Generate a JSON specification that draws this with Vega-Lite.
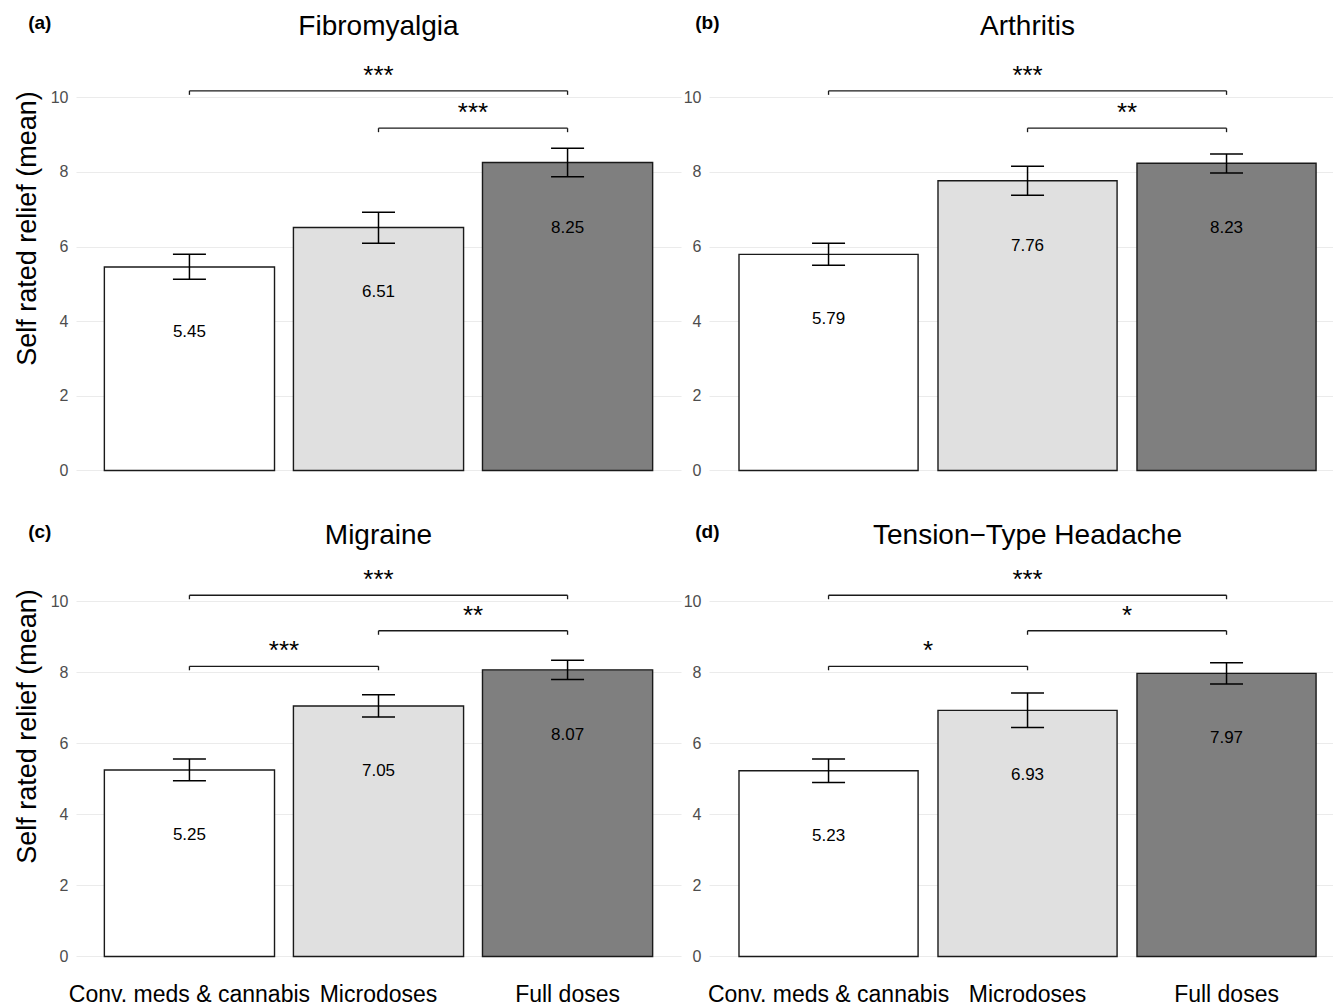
{
  "$schema": "https://vega.github.io/schema/vega-lite/v6.json",
  "background": "white",
  "padding": {"left": 13, "top": 13, "right": 0, "bottom": 0},
  "datasets": {
    "bars": [
      {"panel": "a", "group": "Conv. meds & cannabis", "mean": 5.45, "lo": 5.12, "hi": 5.79},
      {"panel": "a", "group": "Microdoses", "mean": 6.51, "lo": 6.09, "hi": 6.92},
      {"panel": "a", "group": "Full doses", "mean": 8.25, "lo": 7.87, "hi": 8.63},
      {"panel": "b", "group": "Conv. meds & cannabis", "mean": 5.79, "lo": 5.50, "hi": 6.09},
      {"panel": "b", "group": "Microdoses", "mean": 7.76, "lo": 7.37, "hi": 8.15},
      {"panel": "b", "group": "Full doses", "mean": 8.23, "lo": 7.97, "hi": 8.48},
      {"panel": "c", "group": "Conv. meds & cannabis", "mean": 5.25, "lo": 4.95, "hi": 5.56},
      {"panel": "c", "group": "Microdoses", "mean": 7.05, "lo": 6.74, "hi": 7.37},
      {"panel": "c", "group": "Full doses", "mean": 8.07, "lo": 7.80, "hi": 8.34},
      {"panel": "d", "group": "Conv. meds & cannabis", "mean": 5.23, "lo": 4.90, "hi": 5.56},
      {"panel": "d", "group": "Microdoses", "mean": 6.93, "lo": 6.45, "hi": 7.42},
      {"panel": "d", "group": "Full doses", "mean": 7.97, "lo": 7.67, "hi": 8.27}
    ],
    "sig": [
      {"panel": "a", "from": "Conv. meds & cannabis", "to": "Full doses", "level": 10.17, "label": "***", "wide": true},
      {"panel": "a", "from": "Microdoses", "to": "Full doses", "level": 9.17, "label": "***", "wide": false},
      {"panel": "b", "from": "Conv. meds & cannabis", "to": "Full doses", "level": 10.17, "label": "***", "wide": true},
      {"panel": "b", "from": "Microdoses", "to": "Full doses", "level": 9.17, "label": "**", "wide": false},
      {"panel": "c", "from": "Conv. meds & cannabis", "to": "Full doses", "level": 10.17, "label": "***", "wide": true},
      {"panel": "c", "from": "Microdoses", "to": "Full doses", "level": 9.17, "label": "**", "wide": false},
      {"panel": "c", "from": "Conv. meds & cannabis", "to": "Microdoses", "level": 8.17, "label": "***", "wide": false},
      {"panel": "d", "from": "Conv. meds & cannabis", "to": "Full doses", "level": 10.17, "label": "***", "wide": true},
      {"panel": "d", "from": "Microdoses", "to": "Full doses", "level": 9.17, "label": "*", "wide": false},
      {"panel": "d", "from": "Conv. meds & cannabis", "to": "Microdoses", "level": 8.17, "label": "*", "wide": false}
    ]
  },
  "config": {
    "font": "Liberation Sans",
    "view": {"stroke": null},
    "axis": {"domain": false, "ticks": false, "labelFont": "Liberation Sans", "titleFont": "Liberation Sans"},
    "axisY": {"grid": true, "gridColor": "#ebebeb", "gridWidth": 1.2, "labelFontSize": 16, "labelColor": "#4d4d4d", "labelPadding": 8, "titleFontSize": 27, "titleFontWeight": "normal", "titleColor": "#000000", "titlePadding": 9},
    "axisX": {"grid": false, "labelFontSize": 23, "labelColor": "#000000", "labelAngle": 0, "labelPadding": 7, "labelLimit": 0},
    "title": {"font": "Liberation Sans", "color": "#000000"}
  },
  "spacing": 31,
  "vconcat": [
    {
      "spacing": 2,
      "hconcat": [
        {
          "title": {"text": "(a)", "anchor": "start", "frame": "bounds", "fontSize": 19, "fontWeight": "bold", "baseline": "alphabetic", "offset": -35, "dx": 15},
          "vconcat": [{
            "width": 605, "height": 433,
            "title": {"text": "Fibromyalgia", "fontSize": 28, "fontWeight": "normal", "anchor": "middle", "frame": "group", "baseline": "alphabetic", "offset": -5},
            "layer": [
              {"data": {"name": "bars"}, "transform": [{"filter": "datum.panel == 'a'"}],
               "mark": {"type": "bar", "stroke": "#1a1a1a", "strokeWidth": 1.4},
               "encoding": {
                 "x": {"field": "group", "type": "nominal", "scale": {"domain": ["Conv. meds & cannabis", "Microdoses", "Full doses"], "paddingInner": 0.1, "paddingOuter": 0.15}, "axis": null},
                 "y": {"field": "mean", "type": "quantitative", "scale": {"domain": [-0.55, 11.05], "nice": false, "zero": false}, "axis": {"title": "Self rated relief (mean)", "titleY": 170, "values": [0, 2, 4, 6, 8, 10]}},
                 "y2": {"datum": 0},
                 "fill": {"field": "group", "type": "nominal", "scale": {"domain": ["Conv. meds & cannabis", "Microdoses", "Full doses"], "range": ["#ffffff", "#e0e0e0", "#7f7f7f"]}, "legend": null}
               }},
              {"data": {"name": "bars"}, "transform": [{"filter": "datum.panel == 'a'"}],
               "mark": {"type": "rule", "color": "#000000", "strokeWidth": 1.5},
               "encoding": {
                 "x": {"field": "group", "type": "nominal", "axis": null},
                 "y": {"field": "lo", "type": "quantitative", "axis": {"title": "Self rated relief (mean)"}},
                 "y2": {"field": "hi"}
               }},
              {"data": {"name": "bars"}, "transform": [{"filter": "datum.panel == 'a'"}],
               "mark": {"type": "tick", "size": 33, "thickness": 1.5, "color": "#000000", "opacity": 1},
               "encoding": {
                 "x": {"field": "group", "type": "nominal", "axis": null},
                 "y": {"field": "lo", "type": "quantitative", "axis": {"title": "Self rated relief (mean)"}}
               }},
              {"data": {"name": "bars"}, "transform": [{"filter": "datum.panel == 'a'"}],
               "mark": {"type": "tick", "size": 33, "thickness": 1.5, "color": "#000000", "opacity": 1},
               "encoding": {
                 "x": {"field": "group", "type": "nominal", "axis": null},
                 "y": {"field": "hi", "type": "quantitative", "axis": {"title": "Self rated relief (mean)"}}
               }},
              {"data": {"name": "bars"}, "transform": [{"filter": "datum.panel == 'a'"}],
               "mark": {"type": "text", "fontSize": 17, "dy": 65, "baseline": "middle", "color": "#000000"},
               "encoding": {
                 "x": {"field": "group", "type": "nominal", "axis": null},
                 "y": {"field": "mean", "type": "quantitative", "axis": {"title": "Self rated relief (mean)"}},
                 "text": {"field": "mean", "format": ".2f"}
               }},
              {"data": {"name": "sig"}, "transform": [{"filter": "datum.panel == 'a'"}],
               "mark": {"type": "rule", "color": "#1a1a1a", "strokeWidth": 1.3},
               "encoding": {
                 "x": {"field": "from", "type": "nominal", "axis": null},
                 "x2": {"field": "to"},
                 "y": {"field": "level", "type": "quantitative", "axis": {"title": "Self rated relief (mean)"}}
               }},
              {"data": {"name": "sig"}, "transform": [{"filter": "datum.panel == 'a'"}],
               "mark": {"type": "rule", "color": "#1a1a1a", "strokeWidth": 1.3, "y2Offset": 4},
               "encoding": {
                 "x": {"field": "from", "type": "nominal", "axis": null},
                 "y": {"field": "level", "type": "quantitative", "axis": {"title": "Self rated relief (mean)"}},
                 "y2": {"field": "level"}
               }},
              {"data": {"name": "sig"}, "transform": [{"filter": "datum.panel == 'a'"}],
               "mark": {"type": "rule", "color": "#1a1a1a", "strokeWidth": 1.3, "y2Offset": 4},
               "encoding": {
                 "x": {"field": "to", "type": "nominal", "axis": null},
                 "y": {"field": "level", "type": "quantitative", "axis": {"title": "Self rated relief (mean)"}},
                 "y2": {"field": "level"}
               }},
              {"data": {"name": "sig"}, "transform": [{"filter": "datum.panel == 'a' && datum.wide"}],
               "mark": {"type": "text", "fontSize": 26, "dy": -7, "baseline": "alphabetic", "color": "#000000"},
               "encoding": {
                 "x": {"field": "to", "type": "nominal", "bandPosition": -0.611, "axis": null},
                 "y": {"field": "level", "type": "quantitative", "axis": {"title": "Self rated relief (mean)"}},
                 "text": {"field": "label"}
               }},
              {"data": {"name": "sig"}, "transform": [{"filter": "datum.panel == 'a' && !datum.wide"}],
               "mark": {"type": "text", "fontSize": 26, "dy": -7, "baseline": "alphabetic", "color": "#000000"},
               "encoding": {
                 "x": {"field": "to", "type": "nominal", "bandPosition": -0.0556, "axis": null},
                 "y": {"field": "level", "type": "quantitative", "axis": {"title": "Self rated relief (mean)"}},
                 "text": {"field": "label"}
               }}
            ]
          }]
        },
        {
          "title": {"text": "(b)", "anchor": "start", "frame": "bounds", "fontSize": 19, "fontWeight": "bold", "baseline": "alphabetic", "offset": -35, "dx": 12},
          "vconcat": [{
            "width": 625, "height": 433,
            "title": {"text": "Arthritis", "fontSize": 28, "fontWeight": "normal", "anchor": "middle", "frame": "group", "baseline": "alphabetic", "offset": -5, "dx": 6},
            "layer": [
              {"data": {"name": "bars"}, "transform": [{"filter": "datum.panel == 'b'"}],
               "mark": {"type": "bar", "stroke": "#1a1a1a", "strokeWidth": 1.4},
               "encoding": {
                 "x": {"field": "group", "type": "nominal", "scale": {"domain": ["Conv. meds & cannabis", "Microdoses", "Full doses"], "paddingInner": 0.1, "paddingOuter": 0.1204, "align": 0.626}, "axis": null},
                 "y": {"field": "mean", "type": "quantitative", "scale": {"domain": [-0.55, 11.05], "nice": false, "zero": false}, "axis": {"title": null, "values": [0, 2, 4, 6, 8, 10]}},
                 "y2": {"datum": 0},
                 "fill": {"field": "group", "type": "nominal", "scale": {"domain": ["Conv. meds & cannabis", "Microdoses", "Full doses"], "range": ["#ffffff", "#e0e0e0", "#7f7f7f"]}, "legend": null}
               }},
              {"data": {"name": "bars"}, "transform": [{"filter": "datum.panel == 'b'"}],
               "mark": {"type": "rule", "color": "#000000", "strokeWidth": 1.5},
               "encoding": {
                 "x": {"field": "group", "type": "nominal", "axis": null},
                 "y": {"field": "lo", "type": "quantitative", "axis": {"title": null}},
                 "y2": {"field": "hi"}
               }},
              {"data": {"name": "bars"}, "transform": [{"filter": "datum.panel == 'b'"}],
               "mark": {"type": "tick", "size": 33, "thickness": 1.5, "color": "#000000", "opacity": 1},
               "encoding": {
                 "x": {"field": "group", "type": "nominal", "axis": null},
                 "y": {"field": "lo", "type": "quantitative", "axis": {"title": null}}
               }},
              {"data": {"name": "bars"}, "transform": [{"filter": "datum.panel == 'b'"}],
               "mark": {"type": "tick", "size": 33, "thickness": 1.5, "color": "#000000", "opacity": 1},
               "encoding": {
                 "x": {"field": "group", "type": "nominal", "axis": null},
                 "y": {"field": "hi", "type": "quantitative", "axis": {"title": null}}
               }},
              {"data": {"name": "bars"}, "transform": [{"filter": "datum.panel == 'b'"}],
               "mark": {"type": "text", "fontSize": 17, "dy": 65, "baseline": "middle", "color": "#000000"},
               "encoding": {
                 "x": {"field": "group", "type": "nominal", "axis": null},
                 "y": {"field": "mean", "type": "quantitative", "axis": {"title": null}},
                 "text": {"field": "mean", "format": ".2f"}
               }},
              {"data": {"name": "sig"}, "transform": [{"filter": "datum.panel == 'b'"}],
               "mark": {"type": "rule", "color": "#1a1a1a", "strokeWidth": 1.3},
               "encoding": {
                 "x": {"field": "from", "type": "nominal", "axis": null},
                 "x2": {"field": "to"},
                 "y": {"field": "level", "type": "quantitative", "axis": {"title": null}}
               }},
              {"data": {"name": "sig"}, "transform": [{"filter": "datum.panel == 'b'"}],
               "mark": {"type": "rule", "color": "#1a1a1a", "strokeWidth": 1.3, "y2Offset": 4},
               "encoding": {
                 "x": {"field": "from", "type": "nominal", "axis": null},
                 "y": {"field": "level", "type": "quantitative", "axis": {"title": null}},
                 "y2": {"field": "level"}
               }},
              {"data": {"name": "sig"}, "transform": [{"filter": "datum.panel == 'b'"}],
               "mark": {"type": "rule", "color": "#1a1a1a", "strokeWidth": 1.3, "y2Offset": 4},
               "encoding": {
                 "x": {"field": "to", "type": "nominal", "axis": null},
                 "y": {"field": "level", "type": "quantitative", "axis": {"title": null}},
                 "y2": {"field": "level"}
               }},
              {"data": {"name": "sig"}, "transform": [{"filter": "datum.panel == 'b' && datum.wide"}],
               "mark": {"type": "text", "fontSize": 26, "dy": -7, "baseline": "alphabetic", "color": "#000000"},
               "encoding": {
                 "x": {"field": "to", "type": "nominal", "bandPosition": -0.611, "axis": null},
                 "y": {"field": "level", "type": "quantitative", "axis": {"title": null}},
                 "text": {"field": "label"}
               }},
              {"data": {"name": "sig"}, "transform": [{"filter": "datum.panel == 'b' && !datum.wide"}],
               "mark": {"type": "text", "fontSize": 26, "dy": -7, "baseline": "alphabetic", "color": "#000000"},
               "encoding": {
                 "x": {"field": "to", "type": "nominal", "bandPosition": -0.0556, "axis": null},
                 "y": {"field": "level", "type": "quantitative", "axis": {"title": null}},
                 "text": {"field": "label"}
               }}
            ]
          }]
        }
      ]
    },
    {
      "spacing": 2,
      "hconcat": [
        {
          "title": {"text": "(c)", "anchor": "start", "frame": "bounds", "fontSize": 19, "fontWeight": "bold", "baseline": "alphabetic", "offset": -35, "dx": 15},
          "vconcat": [{
            "width": 605, "height": 412,
            "title": {"text": "Migraine", "fontSize": 28, "fontWeight": "normal", "anchor": "middle", "frame": "group", "baseline": "alphabetic", "offset": -8},
            "layer": [
              {"data": {"name": "bars"}, "transform": [{"filter": "datum.panel == 'c'"}],
               "mark": {"type": "bar", "stroke": "#1a1a1a", "strokeWidth": 1.4},
               "encoding": {
                 "x": {"field": "group", "type": "nominal", "scale": {"domain": ["Conv. meds & cannabis", "Microdoses", "Full doses"], "paddingInner": 0.1, "paddingOuter": 0.15}, "axis": {"title": null}},
                 "y": {"field": "mean", "type": "quantitative", "scale": {"domain": [-0.55, 11.05], "nice": false, "zero": false}, "axis": {"title": "Self rated relief (mean)", "titleY": 162, "values": [0, 2, 4, 6, 8, 10]}},
                 "y2": {"datum": 0},
                 "fill": {"field": "group", "type": "nominal", "scale": {"domain": ["Conv. meds & cannabis", "Microdoses", "Full doses"], "range": ["#ffffff", "#e0e0e0", "#7f7f7f"]}, "legend": null}
               }},
              {"data": {"name": "bars"}, "transform": [{"filter": "datum.panel == 'c'"}],
               "mark": {"type": "rule", "color": "#000000", "strokeWidth": 1.5},
               "encoding": {
                 "x": {"field": "group", "type": "nominal", "axis": {"title": null}},
                 "y": {"field": "lo", "type": "quantitative", "axis": {"title": "Self rated relief (mean)"}},
                 "y2": {"field": "hi"}
               }},
              {"data": {"name": "bars"}, "transform": [{"filter": "datum.panel == 'c'"}],
               "mark": {"type": "tick", "size": 33, "thickness": 1.5, "color": "#000000", "opacity": 1},
               "encoding": {
                 "x": {"field": "group", "type": "nominal", "axis": {"title": null}},
                 "y": {"field": "lo", "type": "quantitative", "axis": {"title": "Self rated relief (mean)"}}
               }},
              {"data": {"name": "bars"}, "transform": [{"filter": "datum.panel == 'c'"}],
               "mark": {"type": "tick", "size": 33, "thickness": 1.5, "color": "#000000", "opacity": 1},
               "encoding": {
                 "x": {"field": "group", "type": "nominal", "axis": {"title": null}},
                 "y": {"field": "hi", "type": "quantitative", "axis": {"title": "Self rated relief (mean)"}}
               }},
              {"data": {"name": "bars"}, "transform": [{"filter": "datum.panel == 'c'"}],
               "mark": {"type": "text", "fontSize": 17, "dy": 65, "baseline": "middle", "color": "#000000"},
               "encoding": {
                 "x": {"field": "group", "type": "nominal", "axis": {"title": null}},
                 "y": {"field": "mean", "type": "quantitative", "axis": {"title": "Self rated relief (mean)"}},
                 "text": {"field": "mean", "format": ".2f"}
               }},
              {"data": {"name": "sig"}, "transform": [{"filter": "datum.panel == 'c'"}],
               "mark": {"type": "rule", "color": "#1a1a1a", "strokeWidth": 1.3},
               "encoding": {
                 "x": {"field": "from", "type": "nominal", "axis": {"title": null}},
                 "x2": {"field": "to"},
                 "y": {"field": "level", "type": "quantitative", "axis": {"title": "Self rated relief (mean)"}}
               }},
              {"data": {"name": "sig"}, "transform": [{"filter": "datum.panel == 'c'"}],
               "mark": {"type": "rule", "color": "#1a1a1a", "strokeWidth": 1.3, "y2Offset": 4},
               "encoding": {
                 "x": {"field": "from", "type": "nominal", "axis": {"title": null}},
                 "y": {"field": "level", "type": "quantitative", "axis": {"title": "Self rated relief (mean)"}},
                 "y2": {"field": "level"}
               }},
              {"data": {"name": "sig"}, "transform": [{"filter": "datum.panel == 'c'"}],
               "mark": {"type": "rule", "color": "#1a1a1a", "strokeWidth": 1.3, "y2Offset": 4},
               "encoding": {
                 "x": {"field": "to", "type": "nominal", "axis": {"title": null}},
                 "y": {"field": "level", "type": "quantitative", "axis": {"title": "Self rated relief (mean)"}},
                 "y2": {"field": "level"}
               }},
              {"data": {"name": "sig"}, "transform": [{"filter": "datum.panel == 'c' && datum.wide"}],
               "mark": {"type": "text", "fontSize": 26, "dy": -7, "baseline": "alphabetic", "color": "#000000"},
               "encoding": {
                 "x": {"field": "to", "type": "nominal", "bandPosition": -0.611, "axis": {"title": null}},
                 "y": {"field": "level", "type": "quantitative", "axis": {"title": "Self rated relief (mean)"}},
                 "text": {"field": "label"}
               }},
              {"data": {"name": "sig"}, "transform": [{"filter": "datum.panel == 'c' && !datum.wide"}],
               "mark": {"type": "text", "fontSize": 26, "dy": -7, "baseline": "alphabetic", "color": "#000000"},
               "encoding": {
                 "x": {"field": "to", "type": "nominal", "bandPosition": -0.0556, "axis": {"title": null}},
                 "y": {"field": "level", "type": "quantitative", "axis": {"title": "Self rated relief (mean)"}},
                 "text": {"field": "label"}
               }}
            ]
          }]
        },
        {
          "title": {"text": "(d)", "anchor": "start", "frame": "bounds", "fontSize": 19, "fontWeight": "bold", "baseline": "alphabetic", "offset": -35, "dx": 12},
          "vconcat": [{
            "width": 625, "height": 412,
            "title": {"text": "Tension−Type Headache", "fontSize": 28, "fontWeight": "normal", "anchor": "middle", "frame": "group", "baseline": "alphabetic", "offset": -8, "dx": 6},
            "layer": [
              {"data": {"name": "bars"}, "transform": [{"filter": "datum.panel == 'd'"}],
               "mark": {"type": "bar", "stroke": "#1a1a1a", "strokeWidth": 1.4},
               "encoding": {
                 "x": {"field": "group", "type": "nominal", "scale": {"domain": ["Conv. meds & cannabis", "Microdoses", "Full doses"], "paddingInner": 0.1, "paddingOuter": 0.1204, "align": 0.626}, "axis": {"title": null}},
                 "y": {"field": "mean", "type": "quantitative", "scale": {"domain": [-0.55, 11.05], "nice": false, "zero": false}, "axis": {"title": null, "values": [0, 2, 4, 6, 8, 10]}},
                 "y2": {"datum": 0},
                 "fill": {"field": "group", "type": "nominal", "scale": {"domain": ["Conv. meds & cannabis", "Microdoses", "Full doses"], "range": ["#ffffff", "#e0e0e0", "#7f7f7f"]}, "legend": null}
               }},
              {"data": {"name": "bars"}, "transform": [{"filter": "datum.panel == 'd'"}],
               "mark": {"type": "rule", "color": "#000000", "strokeWidth": 1.5},
               "encoding": {
                 "x": {"field": "group", "type": "nominal", "axis": {"title": null}},
                 "y": {"field": "lo", "type": "quantitative", "axis": {"title": null}},
                 "y2": {"field": "hi"}
               }},
              {"data": {"name": "bars"}, "transform": [{"filter": "datum.panel == 'd'"}],
               "mark": {"type": "tick", "size": 33, "thickness": 1.5, "color": "#000000", "opacity": 1},
               "encoding": {
                 "x": {"field": "group", "type": "nominal", "axis": {"title": null}},
                 "y": {"field": "lo", "type": "quantitative", "axis": {"title": null}}
               }},
              {"data": {"name": "bars"}, "transform": [{"filter": "datum.panel == 'd'"}],
               "mark": {"type": "tick", "size": 33, "thickness": 1.5, "color": "#000000", "opacity": 1},
               "encoding": {
                 "x": {"field": "group", "type": "nominal", "axis": {"title": null}},
                 "y": {"field": "hi", "type": "quantitative", "axis": {"title": null}}
               }},
              {"data": {"name": "bars"}, "transform": [{"filter": "datum.panel == 'd'"}],
               "mark": {"type": "text", "fontSize": 17, "dy": 65, "baseline": "middle", "color": "#000000"},
               "encoding": {
                 "x": {"field": "group", "type": "nominal", "axis": {"title": null}},
                 "y": {"field": "mean", "type": "quantitative", "axis": {"title": null}},
                 "text": {"field": "mean", "format": ".2f"}
               }},
              {"data": {"name": "sig"}, "transform": [{"filter": "datum.panel == 'd'"}],
               "mark": {"type": "rule", "color": "#1a1a1a", "strokeWidth": 1.3},
               "encoding": {
                 "x": {"field": "from", "type": "nominal", "axis": {"title": null}},
                 "x2": {"field": "to"},
                 "y": {"field": "level", "type": "quantitative", "axis": {"title": null}}
               }},
              {"data": {"name": "sig"}, "transform": [{"filter": "datum.panel == 'd'"}],
               "mark": {"type": "rule", "color": "#1a1a1a", "strokeWidth": 1.3, "y2Offset": 4},
               "encoding": {
                 "x": {"field": "from", "type": "nominal", "axis": {"title": null}},
                 "y": {"field": "level", "type": "quantitative", "axis": {"title": null}},
                 "y2": {"field": "level"}
               }},
              {"data": {"name": "sig"}, "transform": [{"filter": "datum.panel == 'd'"}],
               "mark": {"type": "rule", "color": "#1a1a1a", "strokeWidth": 1.3, "y2Offset": 4},
               "encoding": {
                 "x": {"field": "to", "type": "nominal", "axis": {"title": null}},
                 "y": {"field": "level", "type": "quantitative", "axis": {"title": null}},
                 "y2": {"field": "level"}
               }},
              {"data": {"name": "sig"}, "transform": [{"filter": "datum.panel == 'd' && datum.wide"}],
               "mark": {"type": "text", "fontSize": 26, "dy": -7, "baseline": "alphabetic", "color": "#000000"},
               "encoding": {
                 "x": {"field": "to", "type": "nominal", "bandPosition": -0.611, "axis": {"title": null}},
                 "y": {"field": "level", "type": "quantitative", "axis": {"title": null}},
                 "text": {"field": "label"}
               }},
              {"data": {"name": "sig"}, "transform": [{"filter": "datum.panel == 'd' && !datum.wide"}],
               "mark": {"type": "text", "fontSize": 26, "dy": -7, "baseline": "alphabetic", "color": "#000000"},
               "encoding": {
                 "x": {"field": "to", "type": "nominal", "bandPosition": -0.0556, "axis": {"title": null}},
                 "y": {"field": "level", "type": "quantitative", "axis": {"title": null}},
                 "text": {"field": "label"}
               }}
            ]
          }]
        }
      ]
    }
  ]
}
